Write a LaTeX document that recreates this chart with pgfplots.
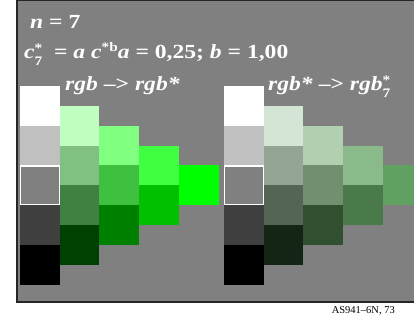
\documentclass[border=0pt]{standalone}
\usepackage{fontspec}
\setmainfont{Liberation Serif}
\newfontfamily\widefont[FakeStretch=1.18,Ligatures=TeX]{Liberation Serif}
\usepackage{pgfplots}
\pgfplotsset{compat=1.18}
\definecolor{framecol}{gray}{0.15}
\definecolor{gA}{HTML}{808080}
\definecolor{gW}{HTML}{FFFFFF}
\definecolor{gL}{HTML}{C0C0C0}
\definecolor{gD}{HTML}{404040}
\definecolor{gK}{HTML}{000000}
% left panel
\definecolor{La1}{HTML}{C0FFC0}\definecolor{La2}{HTML}{80C080}\definecolor{La3}{HTML}{408040}\definecolor{La4}{HTML}{004000}
\definecolor{Lb1}{HTML}{80FF80}\definecolor{Lb2}{HTML}{40C040}\definecolor{Lb3}{HTML}{008000}
\definecolor{Lc1}{HTML}{40FF40}\definecolor{Lc2}{HTML}{00C000}
\definecolor{Ld1}{HTML}{00FF00}
% right panel
\definecolor{Ra1}{HTML}{D5E5D5}\definecolor{Ra2}{HTML}{95A595}\definecolor{Ra3}{HTML}{556555}\definecolor{Ra4}{HTML}{152515}
\definecolor{Rb1}{HTML}{B0D0B0}\definecolor{Rb2}{HTML}{709070}\definecolor{Rb3}{HTML}{305030}
\definecolor{Rc1}{HTML}{8ABA8A}\definecolor{Rc2}{HTML}{4A7A4A}
\definecolor{Rd1}{HTML}{60A060}
\newcommand\bigtxt{\widefont\fontsize{20bp}{22bp}\selectfont\bfseries}
\newcommand\mysup[1]{\raisebox{0.36em}{\fontsize{13bp}{13bp}\selectfont #1}}
\newcommand\starseven{\raisebox{-0.33em}{\fontsize{13bp}{10bp}\selectfont\shortstack[l]{*\\[1.5bp]7}}}
\begin{document}
\begin{tikzpicture}
\useasboundingbox (0,0) rectangle (414bp,325bp);
\begin{axis}[at={(0,0)}, anchor=south west, scale only axis,
  width=414bp, height=325bp, xmin=0, xmax=414, ymin=0, ymax=325,
  y dir=reverse, hide axis, clip=true]
\fill[framecol] (axis cs:16,0) rectangle (axis cs:414,302.6);
\fill[gA] (axis cs:18,1.2) rectangle (axis cs:414,300.8);
% ---- left panel, column 1 (greys)
\addplot[fill=gW, draw=none] coordinates {(20,86) (59.7,86) (59.7,125.7) (20,125.7)};
\addplot[fill=gL, draw=none] coordinates {(20,125.7) (59.7,125.7) (59.7,165.4) (20,165.4)};
\addplot[fill=gA, draw=white, line width=1.2bp] coordinates {(20.6,166) (59.1,166) (59.1,204.5) (20.6,204.5)} -- cycle;
\addplot[fill=gD, draw=none] coordinates {(20,205.1) (59.7,205.1) (59.7,244.8) (20,244.8)};
\addplot[fill=gK, draw=none] coordinates {(20,244.8) (59.7,244.8) (59.7,284.5) (20,284.5)};
% column 2
\addplot[fill=La1, draw=none] coordinates {(59.7,105.85) (99.4,105.85) (99.4,145.55) (59.7,145.55)};
\addplot[fill=La2, draw=none] coordinates {(59.7,145.55) (99.4,145.55) (99.4,185.25) (59.7,185.25)};
\addplot[fill=La3, draw=none] coordinates {(59.7,185.25) (99.4,185.25) (99.4,224.95) (59.7,224.95)};
\addplot[fill=La4, draw=none] coordinates {(59.7,224.95) (99.4,224.95) (99.4,264.65) (59.7,264.65)};
% column 3
\addplot[fill=Lb1, draw=none] coordinates {(99.4,125.7) (139.1,125.7) (139.1,165.4) (99.4,165.4)};
\addplot[fill=Lb2, draw=none] coordinates {(99.4,165.4) (139.1,165.4) (139.1,205.1) (99.4,205.1)};
\addplot[fill=Lb3, draw=none] coordinates {(99.4,205.1) (139.1,205.1) (139.1,244.8) (99.4,244.8)};
% column 4
\addplot[fill=Lc1, draw=none] coordinates {(139.1,145.55) (178.8,145.55) (178.8,185.25) (139.1,185.25)};
\addplot[fill=Lc2, draw=none] coordinates {(139.1,185.25) (178.8,185.25) (178.8,224.95) (139.1,224.95)};
% column 5
\addplot[fill=Ld1, draw=none] coordinates {(178.8,165.4) (218.5,165.4) (218.5,205.1) (178.8,205.1)};
% ---- right panel, column 1 (greys)
\addplot[fill=gW, draw=none] coordinates {(224,86) (263.7,86) (263.7,125.7) (224,125.7)};
\addplot[fill=gL, draw=none] coordinates {(224,125.7) (263.7,125.7) (263.7,165.4) (224,165.4)};
\addplot[fill=gA, draw=white, line width=1.2bp] coordinates {(224.6,166) (263.1,166) (263.1,204.5) (224.6,204.5)} -- cycle;
\addplot[fill=gD, draw=none] coordinates {(224,205.1) (263.7,205.1) (263.7,244.8) (224,244.8)};
\addplot[fill=gK, draw=none] coordinates {(224,244.8) (263.7,244.8) (263.7,284.5) (224,284.5)};
% column 2
\addplot[fill=Ra1, draw=none] coordinates {(263.7,105.85) (303.4,105.85) (303.4,145.55) (263.7,145.55)};
\addplot[fill=Ra2, draw=none] coordinates {(263.7,145.55) (303.4,145.55) (303.4,185.25) (263.7,185.25)};
\addplot[fill=Ra3, draw=none] coordinates {(263.7,185.25) (303.4,185.25) (303.4,224.95) (263.7,224.95)};
\addplot[fill=Ra4, draw=none] coordinates {(263.7,224.95) (303.4,224.95) (303.4,264.65) (263.7,264.65)};
% column 3
\addplot[fill=Rb1, draw=none] coordinates {(303.4,125.7) (343.1,125.7) (343.1,165.4) (303.4,165.4)};
\addplot[fill=Rb2, draw=none] coordinates {(303.4,165.4) (343.1,165.4) (343.1,205.1) (303.4,205.1)};
\addplot[fill=Rb3, draw=none] coordinates {(303.4,205.1) (343.1,205.1) (343.1,244.8) (303.4,244.8)};
% column 4
\addplot[fill=Rc1, draw=none] coordinates {(343.1,145.55) (382.8,145.55) (382.8,185.25) (343.1,185.25)};
\addplot[fill=Rc2, draw=none] coordinates {(343.1,185.25) (382.8,185.25) (382.8,224.95) (343.1,224.95)};
% column 5
\addplot[fill=Rd1, draw=none] coordinates {(382.8,165.4) (414,165.4) (414,205.1) (382.8,205.1)};
% ---- texts
\node[anchor=base west, text=white, font=\bigtxt, inner sep=0pt] at (axis cs:30,29) {\textit{n} = 7};
\node[anchor=base west, text=white, font=\bigtxt, inner sep=0pt] at (axis cs:24,59)
  {\textit{c}\starseven\ \ = \textit{a c}\mysup{*b}\textit{a} = 0,25; \textit{b} = 1,00};
\node[anchor=base west, text=white, font=\bigtxt, inner sep=0pt] at (axis cs:65,91) {\textit{rgb} \textendash> \textit{rgb*}};
\node[anchor=base west, text=white, font=\bigtxt, inner sep=0pt] at (axis cs:268,91) {\textit{rgb*} \textendash> \textit{rgb}\starseven};
\node[anchor=base east, text=black, font=\fontsize{10.5bp}{12bp}\selectfont, inner sep=0pt] at (axis cs:395,313) {AS941\textendash6N, 73};
\end{axis}
\end{tikzpicture}
\end{document}
